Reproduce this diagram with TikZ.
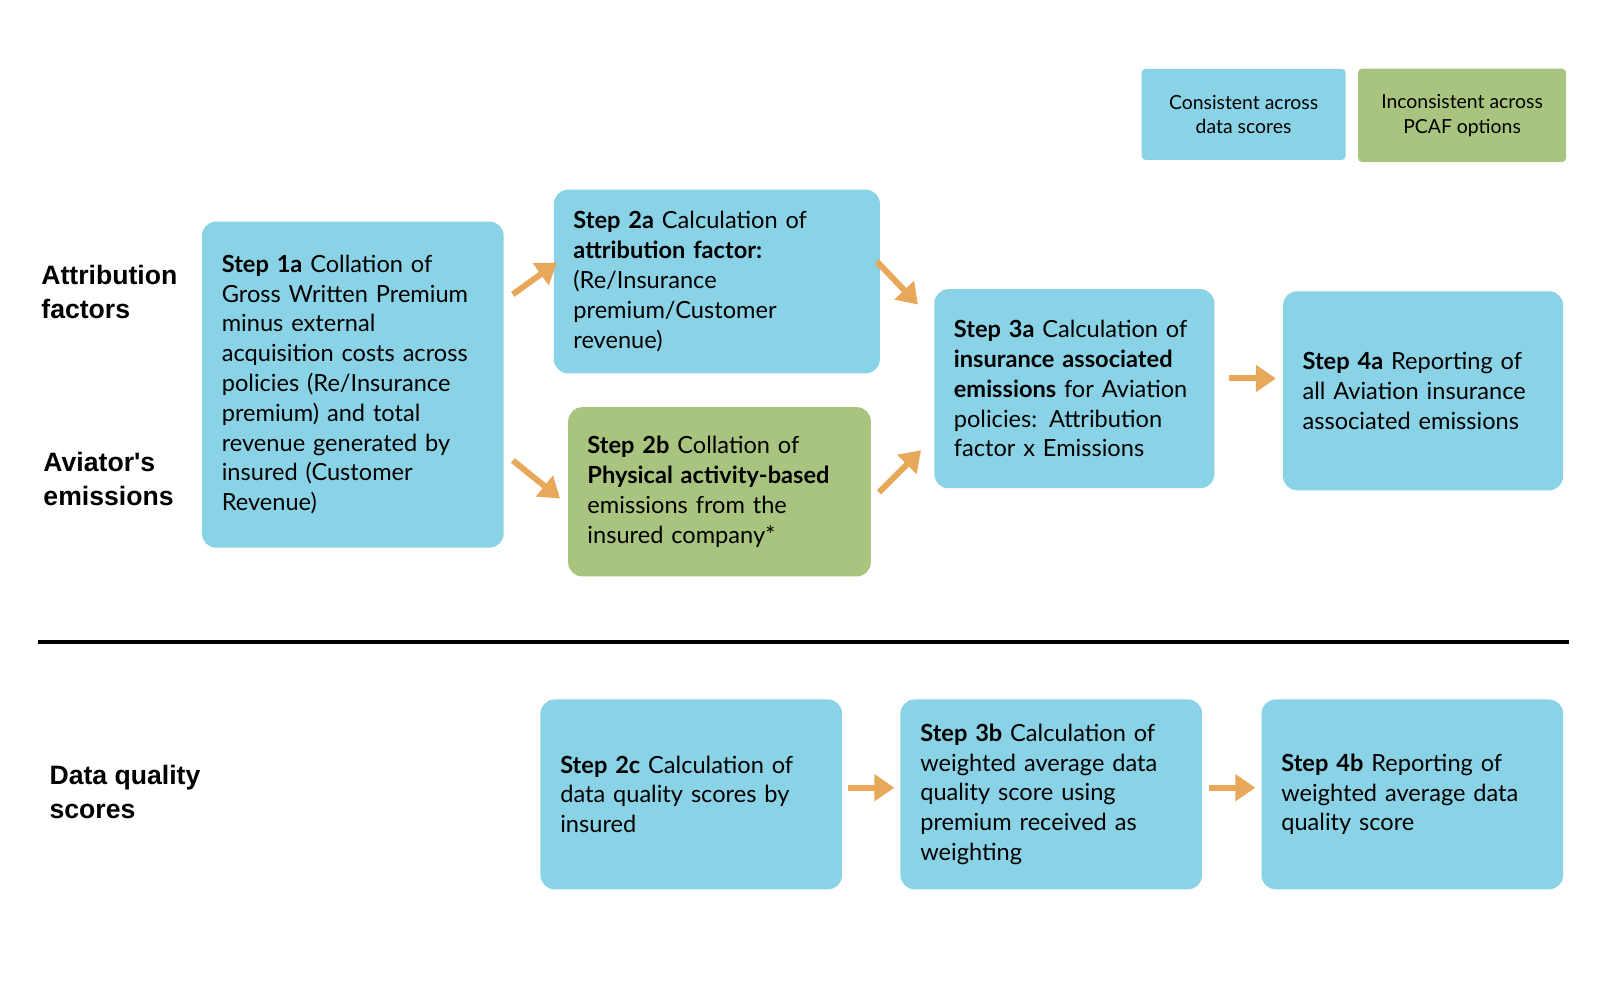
\documentclass[tikz,border=0pt]{standalone}
\usepackage{fontspec}
\setmainfont{Lato}
\newfontfamily\arialf{Liberation Sans}
\usetikzlibrary{arrows.meta}
\definecolor{cblue}{HTML}{8AD3E6}
\definecolor{cgreen}{HTML}{A9C47F}
\definecolor{corange}{HTML}{E8A85A}
\begin{document}
\begin{tikzpicture}[x=0.5128pt,y=-0.5128pt,
  box/.style={rectangle, rounded corners=7pt, fill=cblue, align=left, inner xsep=0pt,
    font=\fontsize{11.8}{14.9}\selectfont},
  gbox/.style={box, fill=cgreen},
  leg/.style={rectangle, rounded corners=2pt, align=center, inner sep=0pt,
    font=\fontsize{9.7}{12.3}\selectfont},
  side/.style={anchor=north west, align=left, inner sep=0pt, font=\arialf\bfseries\fontsize{13.3}{17}\selectfont},
  arr/.style={corange, line width=3pt, -{Triangle[length=10pt,width=13pt]}}]
\useasboundingbox (0,0) rectangle (1560,975);

\node[leg, fill=cblue, minimum width=102pt, minimum height=45.6pt] (l1) at (1212.5,111.5) {Consistent across\\data scores};
\node[leg, fill=cgreen, minimum width=104pt, minimum height=46.7pt] (l2) at (1425.5,112.5) {Inconsistent across\\PCAF options};

\node[side] (t1) at (40,258) {Attribution\\factors};
\node[side] (t2) at (42,441) {Aviator's\\emissions};
\node[side] (t3) at (48,746) {Data quality\\scores};

\node[box, minimum width=150.8pt, minimum height=163pt, text width=131pt] (s1a) at (344,375)
 {\textbf{Step 1a} Collation of\\Gross Written Premium\\minus external\\acquisition costs across\\policies (Re/Insurance\\premium) and total\\revenue generated by\\insured (Customer\\Revenue)};
\node[box, minimum width=163pt, minimum height=91.8pt, text width=143.5pt] (s2a) at (699,274.5)
 {\textbf{Step 2a} Calculation of\\\textbf{attribution factor:}\\(Re/Insurance\\premium/Customer\\revenue)};
\node[gbox, minimum width=151.3pt, minimum height=84.6pt, text width=132pt] (s2b) at (701.5,479.5)
 {\textbf{Step 2b} Collation of\\\textbf{Physical activity-based}\\emissions from the\\insured company*};
\node[box, minimum width=140pt, minimum height=99.5pt, text width=120.5pt] (s3a) at (1047.5,379)
 {\textbf{Step 3a} Calculation of\\\textbf{insurance associated}\\\textbf{emissions} for Aviation\\policies: Attribution\\factor x Emissions};
\node[box, minimum width=140pt, minimum height=99.5pt, text width=120.5pt] (s4a) at (1387.5,381)
 {\textbf{Step 4a} Reporting of\\all Aviation insurance\\associated emissions};
\node[box, minimum width=150.8pt, minimum height=94.9pt, text width=131pt] (s2c) at (674,774.5)
 {\textbf{Step 2c} Calculation of\\data quality scores by\\insured};
\node[box, minimum width=150.8pt, minimum height=94.9pt, text width=131pt] (s3b) at (1025,774.5)
 {\textbf{Step 3b} Calculation of\\weighted average data\\quality score using\\premium received as\\weighting};
\node[box, minimum width=150.8pt, minimum height=94.9pt, text width=131pt] (s4b) at (1377,774.5)
 {\textbf{Step 4b} Reporting of\\weighted average data\\quality score};

\coordinate (sep1) at (37,626);
\coordinate (sep2) at (1530,626);
\draw[line width=1.6pt] (sep1) -- (sep2);

\coordinate (a1s) at (500,287); \coordinate (a1e) at (543,256);
\coordinate (a2s) at (500,449); \coordinate (a2e) at (546,486);
\coordinate (a3s) at (855,255); \coordinate (a3e) at (895,297);
\coordinate (a4s) at (857,480); \coordinate (a4e) at (898,439);
\coordinate (a5s) at (1198,369); \coordinate (a5e) at (1244,369);
\coordinate (a6s) at (827,768); \coordinate (a6e) at (872,768);
\coordinate (a7s) at (1179,768); \coordinate (a7e) at (1224,768);
\foreach \i in {1,...,7} \draw[arr] (a\i s) -- (a\i e);
\end{tikzpicture}
\end{document}
